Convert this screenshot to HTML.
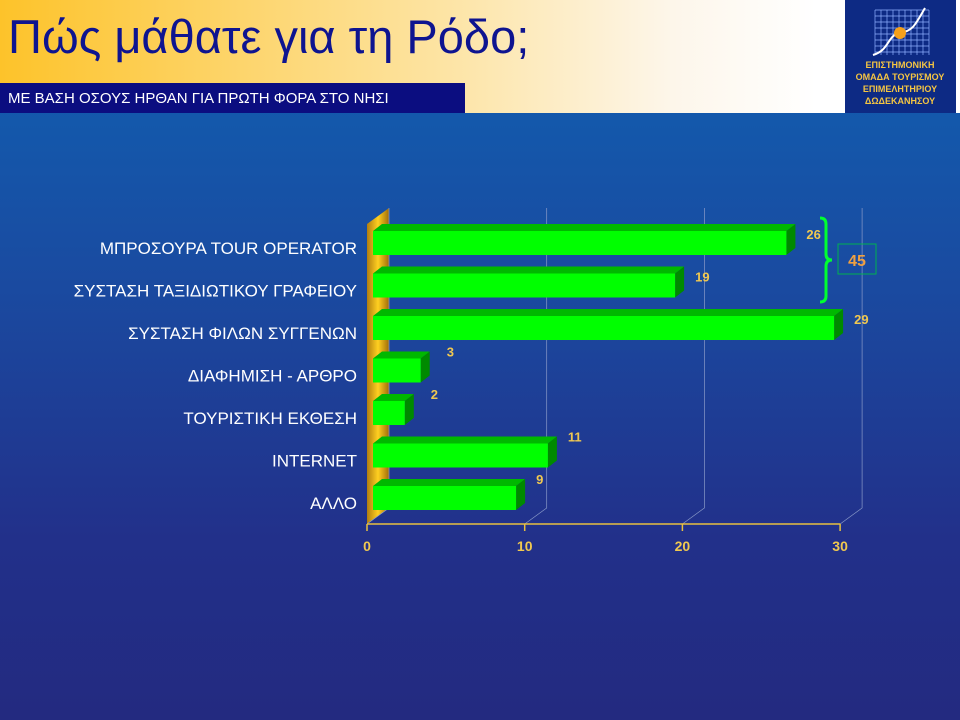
<!DOCTYPE html>
<html><head><meta charset="utf-8">
<style>
body{margin:0;width:960px;height:720px;overflow:hidden;font-family:"Liberation Sans",sans-serif;}
#bg{position:absolute;left:0;top:0;width:960px;height:720px;background:linear-gradient(#0f62b3 0%,#1a4aa0 40%,#22308a 75%,#232a80 100%);}
#head{position:absolute;left:0;top:0;width:960px;height:113px;background:linear-gradient(90deg,#fdc32a 0%,#fde3a0 45%,#fdf6ea 70%,#ffffff 85%);}
#title{position:absolute;left:8px;top:9px;font-size:47px;color:#0e1490;}
#sub{position:absolute;left:0;top:83px;width:465px;height:30px;background:#0b0d80;color:#fff;font-size:15px;line-height:31px;padding-left:8px;box-sizing:border-box;}
#logo{position:absolute;left:845px;top:0;width:111px;height:113px;background:#0d2a84;}
</style></head><body>
<div id="bg"></div>
<div id="head"></div>
<div id="title">Πώς μάθατε για τη Ρόδο;</div>
<div id="sub">ΜΕ ΒΑΣΗ ΟΣΟΥΣ ΗΡΘΑΝ ΓΙΑ ΠΡΩΤΗ ΦΟΡΑ ΣΤΟ ΝΗΣΙ</div>
<div id="logo">
<svg width="111" height="113">
<g stroke="#8fb0ff" stroke-width="0.7">
<path d="M30 10V55M36 10V55M42 10V55M48 10V55M54 10V55M60 10V55M66 10V55M72 10V55M78 10V55M84 10V55M30 10H84M30 16H84M30 22H84M30 28H84M30 34H84M30 40H84M30 46H84M30 52H84"/></g>
<path d="M28 55 C45 50,42 35,55 33 C68 31,70 25,80 8" stroke="#fff" stroke-width="2" fill="none"/>
<circle cx="55" cy="33" r="6" fill="#f5a01a"/>
<g fill="#f5c542" font-size="9" font-weight="bold" text-anchor="middle" font-family="Liberation Sans,sans-serif">
<text x="55" y="68">ΕΠΙΣΤΗΜΟΝΙΚΗ</text><text x="55" y="80">ΟΜΑΔΑ ΤΟΥΡΙΣΜΟΥ</text><text x="55" y="92">ΕΠΙΜΕΛΗΤΗΡΙΟΥ</text><text x="55" y="104">ΔΩΔΕΚΑΝΗΣΟΥ</text></g>
</svg></div>
<svg id="chart" width="960" height="720" style="position:absolute;left:0;top:0"></svg>
<script>
const categories=["ΜΠΡΟΣΟΥΡΑ TOUR OPERATOR","ΣΥΣΤΑΣΗ ΤΑΞΙΔΙΩΤΙΚΟΥ ΓΡΑΦΕΙΟΥ","ΣΥΣΤΑΣΗ ΦΙΛΩΝ ΣΥΓΓΕΝΩΝ","ΔΙΑΦΗΜΙΣΗ - ΑΡΘΡΟ","ΤΟΥΡΙΣΤΙΚΗ ΕΚΘΕΣΗ","INTERNET","ΑΛΛΟ"];
const values=[26,19,29,3,2,11,9];
const ticks=[0,10,20,30];
const groupTotal=45;
const NS="http://www.w3.org/2000/svg";
const svg=document.getElementById('chart');
function mk(t,a,txt){const e=document.createElementNS(NS,t);for(const k in a)e.setAttribute(k,a[k]);if(txt!=null)e.textContent=txt;svg.appendChild(e);return e;}
const x0=367,sc=15.77,axisY=524,dx=22,dy=16,top0=208;
function xs(v){return x0+v*sc;}
function yb(i){return 231+i*42.5;}
const defs=mk('defs',{});
defs.innerHTML='<linearGradient id="wall" x1="0" x2="1"><stop offset="0" stop-color="#b07d10"/><stop offset="0.5" stop-color="#ffd020"/><stop offset="1" stop-color="#a06c08"/></linearGradient>';
let w=mk('polygon',{points:`${x0},${axisY} ${x0},${top0+dy} ${x0+dx},${top0} ${x0+dx},${axisY-dy}`,fill:'url(#wall)'});

ticks.forEach(t=>{
 let g=mk('polyline',{points:`${xs(t)},${axisY} ${xs(t)+dx},${axisY-dy} ${xs(t)+dx},${top0}`,fill:'none',stroke:'#8a9ac8','stroke-width':0.7});
 
 let tk=mk('line',{x1:xs(t),y1:axisY,x2:xs(t),y2:axisY+7,stroke:'#e8c040','stroke-width':1.5});
 
 let l=mk('text',{x:xs(t),y:axisY+27,fill:'#f0c850','font-size':14,'font-weight':'bold','text-anchor':'middle'},t);
 
});
let ax=mk('line',{x1:x0,y1:axisY,x2:xs(30),y2:axisY,stroke:'#e8c040','stroke-width':1.5});

values.forEach((v,i)=>{
 const y=yb(i),h=24,bx=373,bw=v*15.9,ox=9,oy=7;
 let tp=mk('polygon',{points:`${bx},${y} ${bx+ox},${y-oy} ${bx+bw+ox},${y-oy} ${bx+bw},${y}`,fill:'#00b800'});
 
 let sd=mk('polygon',{points:`${bx+bw},${y} ${bx+bw+ox},${y-oy} ${bx+bw+ox},${y+h-oy} ${bx+bw},${y+h}`,fill:'#008a00'});
 
 let r=mk('rect',{x:bx,y:y,width:bw,height:h,fill:'#00ff00'});
 
 let vl=mk('text',{x:bx+bw+ox+(v<5?17:11),y:y+(i>=3?-2:8),fill:'#f0c850','font-size':13,'font-weight':'bold','text-anchor':'start'},v);
 
 let cl=mk('text',{x:357,y:y+h/2+11,fill:'#ffffff','font-size':17,'text-anchor':'end'},categories[i]);
 
});
let br=mk('path',{d:'M820 218 q6 0 6 6 v30 q0 6 6 6 q-6 0 -6 6 v30 q0 6 -6 6',fill:'none',stroke:'#00ff30','stroke-width':3});

let bx2=mk('rect',{x:838,y:244,width:38,height:30,fill:'none',stroke:'#00b050','stroke-width':1});

let gt=mk('text',{x:857,y:266,fill:'#f0a040','font-size':16,'font-weight':'bold','text-anchor':'middle'},groupTotal);

</script>
</body></html>
